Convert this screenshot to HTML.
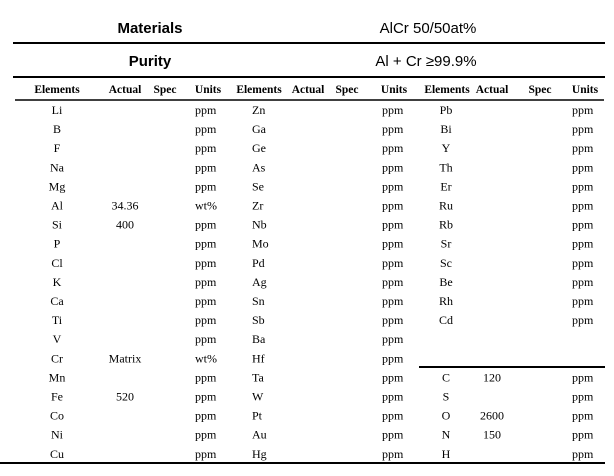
<!DOCTYPE html>
<html><head><meta charset="utf-8"><style>
html,body{margin:0;padding:0;background:#fff;}
svg{display:block;}
.t{font-family:"Liberation Serif",serif;font-size:12px;fill:#000;}
.h{font-family:"Liberation Serif",serif;font-size:11.5px;font-weight:bold;fill:#000;}
.s{font-family:"Liberation Sans",sans-serif;font-size:15px;fill:#000;}
</style></head><body>
<svg width="614" height="476" xmlns="http://www.w3.org/2000/svg">
<text class="s" x="150" y="33" text-anchor="middle" font-weight="bold">Materials</text>
<text class="s" x="428" y="33" text-anchor="middle">AlCr 50/50at%</text>
<line x1="13" y1="43" x2="605" y2="43" stroke="#000" stroke-width="2"/>
<text class="s" x="150" y="66" text-anchor="middle" font-weight="bold">Purity</text>
<text class="s" x="426" y="66" text-anchor="middle">Al + Cr ≥99.9%</text>
<line x1="13" y1="77" x2="605" y2="77" stroke="#000" stroke-width="2"/>
<g class="h">
<text x="57" y="93" text-anchor="middle">Elements</text>
<text x="125" y="93" text-anchor="middle">Actual</text>
<text x="165" y="93" text-anchor="middle">Spec</text>
<text x="208" y="93" text-anchor="middle">Units</text>
<text x="259" y="93" text-anchor="middle">Elements</text>
<text x="308" y="93" text-anchor="middle">Actual</text>
<text x="347" y="93" text-anchor="middle">Spec</text>
<text x="394" y="93" text-anchor="middle">Units</text>
<text x="447" y="93" text-anchor="middle">Elements</text>
<text x="492" y="93" text-anchor="middle">Actual</text>
<text x="540" y="93" text-anchor="middle">Spec</text>
<text x="585" y="93" text-anchor="middle">Units</text>
</g>
<line x1="15" y1="100" x2="604" y2="100" stroke="#000" stroke-width="1.5"/>
<g class="t" id="rows"></g>
<line x1="419" y1="367" x2="605" y2="367" stroke="#000" stroke-width="2"/>
<line x1="0" y1="463" x2="605" y2="463" stroke="#000" stroke-width="2"/>
<g class="t">
<!-- generated below -->
</g>
</svg>
<script>
var c1=["Li","B","F","Na","Mg","Al","Si","P","Cl","K","Ca","Ti","V","Cr","Mn","Fe","Co","Ni","Cu"];
var a1={5:"34.36",6:"400",13:"Matrix",15:"520"};
var u1={5:"wt%",13:"wt%"};
var c2=["Zn","Ga","Ge","As","Se","Zr","Nb","Mo","Pd","Ag","Sn","Sb","Ba","Hf","Ta","W","Pt","Au","Hg"];
var c3=["Pb","Bi","Y","Th","Er","Ru","Rb","Sr","Sc","Be","Rh","Cd"];
var c4=["C","S","O","N","H"],a4={0:"120",2:"2600",3:"150"};
var g=document.getElementById("rows"),ns="http://www.w3.org/2000/svg";
function T(x,y,s,anc){var e=document.createElementNS(ns,"text");e.setAttribute("x",x);e.setAttribute("y",y);if(anc)e.setAttribute("text-anchor",anc);e.textContent=s;g.appendChild(e);}
for(var i=0;i<19;i++){var y=(114+i*19.1).toFixed(1);
T(57,y,c1[i],"middle");if(a1[i])T(125,y,a1[i],"middle");T(195,y,u1[i]||"ppm");
T(252,y,c2[i]);T(382,y,"ppm");
if(i<12){T(446,y,c3[i],"middle");T(572,y,"ppm");}
if(i>=14){var k=i-14;T(446,y,c4[k],"middle");if(a4[k])T(492,y,a4[k],"middle");T(572,y,"ppm");}
}
</script>
</body></html>
